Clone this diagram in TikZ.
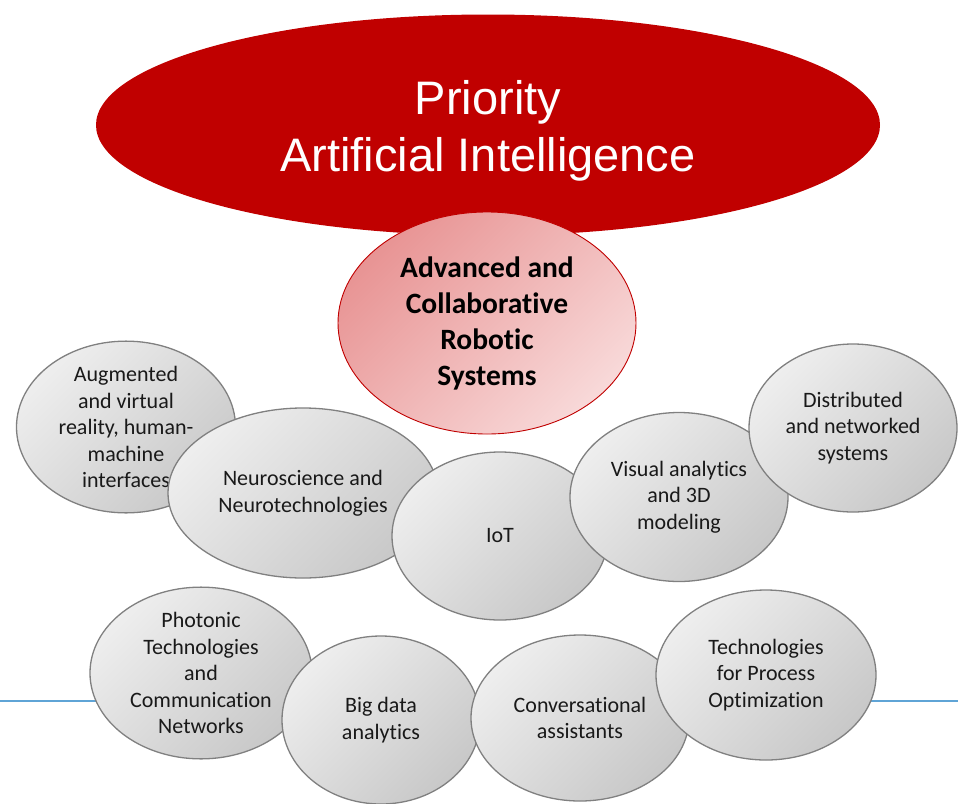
\documentclass[tikz,border=0pt]{standalone}
\usepackage{fontspec}
\usepackage{xcolor}
\setmainfont{Carlito}[Ligatures=NoCommon]
\newfontfamily\titlefont{Liberation Sans}
\usetikzlibrary{shapes.geometric}

\definecolor{airRed}{HTML}{C00000}
\definecolor{pinkDark}{HTML}{E89494}
\definecolor{pinkLight}{HTML}{F8D9D9}
\definecolor{grayLight}{HTML}{EEEEEE}
\definecolor{grayDark}{HTML}{C8C8C8}
\definecolor{bubbleLine}{HTML}{808080}
\definecolor{ruleBlue}{HTML}{5FA4D6}

\tikzset{
  core/.style={ellipse, fill=airRed, inner sep=0pt, align=center, text=white,
    font=\titlefont\fontsize{47}{57}\selectfont},
  focus/.style={ellipse, draw=airRed, line width=0.9pt, top color=pinkDark,
    bottom color=pinkLight, shading angle=45, inner sep=0pt, align=center,
    font=\bfseries\fontsize{29.5}{36}\selectfont},
  bubble/.style={ellipse, draw=bubbleLine, line width=1.3pt, top color=grayLight,
    bottom color=grayDark, shading angle=45, inner sep=0pt, align=center,
    text=black!90, font=\fontsize{22}{26.5}\selectfont},
  rule/.style={ruleBlue, line width=1.6pt}
}

\begin{document}
\begin{tikzpicture}[x=1pt,y=-1pt]
        \fill[white] (0,0) rectangle (958,803);
        \useasboundingbox (0,0) rectangle (958,803);
        \coordinate(ruleL) at (0,701);
        \coordinate(ruleR) at (958,701);
        \draw[rule](ruleL)--(ruleR);
        \node[core, minimum width=784pt, minimum height=221pt](ai) at (488,125) {\rule{0pt}{46pt}Priority\\Artificial Intelligence};
        \node[focus, minimum width=298pt, minimum height=222pt](robotics) at (487,323) {Advanced and\\Collaborative\\Robotic\\Systems};
        \node[bubble, minimum width=219pt, minimum height=169pt](arvr) at (126,427) {Augmented\\and virtual\\reality, human-\\machine\\interfaces};
        \node[bubble, minimum width=270pt, minimum height=170pt](neuro) at (303,493) {Neuroscience and\\Neurotechnologies};
        \node[bubble, minimum width=216pt, minimum height=168pt](iot) at (500,536) {IoT};
        \node[bubble, minimum width=218pt, minimum height=169pt](visual) at (679,497) {Visual analytics\\and 3D\\modeling};
        \node[bubble, minimum width=208pt, minimum height=168pt](distrib) at (853,428) {Distributed\\and networked\\systems};
        \node[bubble, minimum width=222pt, minimum height=168pt](photonic) at (201,673) {Photonic\\Technologies\\and\\Communication\\Networks};
        \node[bubble, minimum width=198pt, minimum height=168pt](bigdata) at (381,720) {Big data\\analytics};
        \node[bubble, minimum width=218pt, minimum height=166pt](conv) at (580,718) {Conversational\\assistants};
        \node[bubble, minimum width=220pt, minimum height=170pt](process) at (766,675) {Technologies\\for Process\\Optimization};
        \end{tikzpicture}
\end{document}
